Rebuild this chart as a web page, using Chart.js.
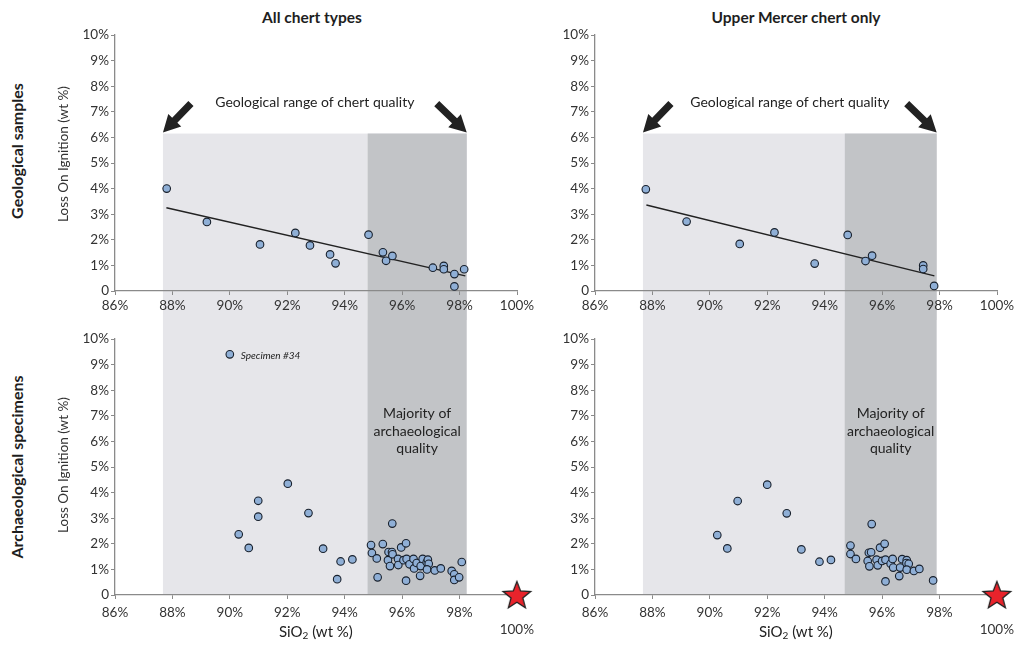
<!DOCTYPE html>
<html>
<head>
<meta charset="utf-8">
<script src="https://cdn.jsdelivr.net/npm/chart.js@4.4.1/dist/chart.umd.min.js"></script>
<style>
  body { margin: 0; background: #fff; width: 1022px; height: 647px; position: relative; overflow: hidden; font-family: Lato, sans-serif; color: #1e1e1e; }
  canvas { position: absolute; }
  .t { position: absolute; white-space: nowrap; font-weight: bold; transform: translate(-50%, -50%); }
  .rot { transform: translate(-50%, -50%) rotate(-90deg); font-size: 16px; }
</style>
</head>
<body>
<div class="t" style="left:312px;top:17px;font-size:15.5px">All chert types</div>
<div class="t" style="left:796px;top:17px;font-size:15.5px">Upper Mercer chert only</div>
<div class="t rot" style="left:16px;top:151px">Geological samples</div>
<div class="t rot" style="left:16px;top:467px">Archaeological specimens</div>

<canvas id="geoAll" width="540" height="320" style="left:0;top:0"></canvas>
<canvas id="geoUm" width="540" height="320" style="left:480px;top:0"></canvas>
<canvas id="archAll" width="540" height="327" style="left:0;top:320px"></canvas>
<canvas id="archUm" width="540" height="327" style="left:480px;top:320px"></canvas>

<script>
var FONT = 'Lato, sans-serif';

// axis ticks
var xTicks = [86, 88, 90, 92, 94, 96, 98, 100];
var yTicks = [0, 1, 2, 3, 4, 5, 6, 7, 8, 9, 10];

// geological samples, all chert types (SiO2 %, LOI %)
var geoAllX = [87.8, 89.2, 91.05, 92.28, 92.79, 93.49, 93.68, 94.83, 95.33, 95.44, 95.66, 97.07, 97.45, 97.45, 97.82, 97.82, 98.16];
var geoAllY = [4.0, 2.7, 1.82, 2.27, 1.78, 1.43, 1.08, 2.2, 1.51, 1.18, 1.37, 0.91, 0.98, 0.85, 0.66, 0.18, 0.85];
var trendAllX = [87.79, 98.2];
var trendAllY = [3.25, 0.59];

// geological samples, Upper Mercer only
var geoUmX = [87.77, 89.19, 91.04, 92.25, 93.65, 94.8, 95.42, 95.65, 97.43, 97.43, 97.81];
var geoUmY = [3.97, 2.71, 1.84, 2.29, 1.07, 2.19, 1.17, 1.38, 1.0, 0.86, 0.2];
var trendUmX = [87.79, 97.82];
var trendUmY = [3.36, 0.59];

// archaeological specimens, all chert types (first one is specimen #34)
var archAllX = [90.0, 92.02, 90.99, 90.99, 92.74, 90.31, 90.66, 93.25, 93.86, 94.27, 93.74, 94.92, 94.95, 95.12, 95.15, 95.33,
  95.66, 95.53, 95.65, 95.51, 95.58, 95.67, 95.86, 95.87, 95.97, 96.14, 96.05, 96.16, 96.14, 96.26, 96.4, 96.42, 96.51,
  96.65, 96.72, 96.86, 96.9, 96.93, 96.63, 96.87, 97.14, 97.35, 97.73, 97.82, 97.82, 97.99, 98.08];
var archAllY = [9.4, 4.35, 3.68, 3.06, 3.2, 2.37, 1.84, 1.81, 1.31, 1.39, 0.62, 1.95, 1.64, 1.43, 0.69, 1.99,
  2.79, 1.68, 1.68, 1.36, 1.13, 1.59, 1.41, 1.17, 1.86, 2.02, 1.36, 1.41, 0.56, 1.2, 1.41, 1.04, 1.25,
  1.13, 1.41, 1.28, 1.38, 1.22, 0.75, 1.0, 0.96, 1.04, 0.94, 0.81, 0.59, 0.69, 1.29];

// archaeological specimens, Upper Mercer only
var archUmX = [92.0, 90.97, 92.68, 90.26, 90.61, 93.19, 93.82, 94.22, 94.9, 94.9, 95.09, 95.64, 95.54, 95.62, 95.5, 95.56,
  95.81, 95.85, 95.93, 96.09, 96.0, 96.12, 96.12, 96.3, 96.37, 96.39, 96.63, 96.7, 96.86, 96.85, 96.93, 96.6, 96.86,
  97.11, 97.3, 97.78];
var archUmY = [4.31, 3.67, 3.19, 2.34, 1.82, 1.78, 1.3, 1.37, 1.93, 1.6, 1.41, 2.77, 1.65, 1.67, 1.33, 1.12,
  1.38, 1.16, 1.85, 2.0, 1.33, 1.38, 0.53, 1.22, 1.41, 1.07, 1.07, 1.4, 1.36, 1.25, 1.22, 0.74, 0.99,
  0.94, 1.02, 0.57];

// pure silica reference (star)
var pureX = [100];
var pureY = [0];

// shaded ranges (SiO2 %)
var geoRangeAll = [87.67, 98.25];
var majorityAll = [94.8, 98.25];
var geoRangeUm = [87.67, 97.9];
var majorityUm = [94.7, 97.9];
var geoShadeTop = 6.15;

function pts(xs, ys) {
  return xs.map(function (x, i) { return { x: x, y: ys[i] }; });
}

// filled red star for the 100% marker
var star = document.createElement('canvas');
star.width = 32; star.height = 32;
(function () {
  var c = star.getContext('2d');
  c.beginPath();
  for (var i = 0; i < 10; i++) {
    var r = i % 2 ? 6.2 : 14.5;
    var a = -Math.PI / 2 + i * Math.PI / 5;
    c.lineTo(16 + r * Math.cos(a), 17 + r * Math.sin(a));
  }
  c.closePath();
  c.fillStyle = '#e8232b';
  c.fill();
  c.lineWidth = 1.3;
  c.strokeStyle = '#222';
  c.stroke();
})();

function arrow(ctx, tx, ty, dx, dy) {
  var len = Math.hypot(dx, dy), ux = -dx / len, uy = -dy / len;
  var nx = -uy, ny = ux;
  var hl = 17, hw = 9, sw = 3.6;
  var bx = tx - ux * hl, by = ty - uy * hl;
  var sx = tx + dx, sy = ty + dy;
  ctx.beginPath();
  ctx.moveTo(tx, ty);
  ctx.lineTo(bx + nx * hw, by + ny * hw);
  ctx.lineTo(bx + nx * sw, by + ny * sw);
  ctx.lineTo(sx + nx * sw, sy + ny * sw);
  ctx.lineTo(sx - nx * sw, sy - ny * sw);
  ctx.lineTo(bx - nx * sw, by - ny * sw);
  ctx.lineTo(bx - nx * hw, by - ny * hw);
  ctx.closePath();
  ctx.fill();
}

var decor = {
  id: 'decor',
  beforeDraw: function (chart, args, o) {
    var ctx = chart.ctx, xs = chart.scales.x, ys = chart.scales.y;
    var top = o.geo ? ys.getPixelForValue(geoShadeTop) : 0;
    var bottom = o.geo ? chart.height : ys.getPixelForValue(0);
    var a = xs.getPixelForValue(o.range[0]), b = xs.getPixelForValue(o.range[1]);
    var m = xs.getPixelForValue(o.majority[0]);
    ctx.save();
    ctx.fillStyle = '#e6e6ea';
    ctx.fillRect(a, top, b - a, bottom - top);
    ctx.fillStyle = '#c2c4c7';
    ctx.fillRect(m, top, b - m, bottom - top);
    ctx.restore();
  },
  afterDraw: function (chart, args, o) {
    var ctx = chart.ctx, xs = chart.scales.x, ys = chart.scales.y, ca = chart.chartArea;
    var a = xs.getPixelForValue(o.range[0]), b = xs.getPixelForValue(o.range[1]);
    var m = xs.getPixelForValue(o.majority[0]);
    ctx.save();
    ctx.fillStyle = '#222';
    ctx.textAlign = 'center';
    ctx.textBaseline = 'middle';
    if (o.geo) {
      var ty = ys.getPixelForValue(geoShadeTop);
      arrow(ctx, a, ty - 1, 28, -29);
      arrow(ctx, b, ty - 1, -30, -29);
      ctx.font = '14px ' + FONT;
      ctx.fillText('Geological range of chert quality', (a + b) / 2, ys.getPixelForValue(7.35));
    } else {
      ctx.font = '14px ' + FONT;
      var cy = ys.getPixelForValue(6.4), cx = (m + b) / 2;
      ctx.fillText('Majority of', cx, cy - 17.5);
      ctx.fillText('archaeological', cx, cy);
      ctx.fillText('quality', cx, cy + 17);
      // x axis title with subscript
      var y0 = chart.height - 15;
      ctx.font = '15px ' + FONT;
      var w1 = ctx.measureText('SiO').width, w3 = ctx.measureText(' (wt %)').width;
      ctx.font = '10px ' + FONT;
      var w2 = ctx.measureText('2').width;
      var x0 = (ca.left + ca.right) / 2 - (w1 + w2 + w3) / 2;
      ctx.textAlign = 'left';
      ctx.font = '15px ' + FONT;
      ctx.fillText('SiO', x0, y0);
      ctx.fillText(' (wt %)', x0 + w1 + w2, y0);
      ctx.font = '10px ' + FONT;
      ctx.fillText('2', x0 + w1, y0 + 4);
    }
    if (o.spec != null) {
      var d = chart.data.datasets[0].data[o.spec];
      ctx.textAlign = 'left';
      ctx.font = 'italic 10px ' + FONT;
      ctx.fillText('Specimen #34', xs.getPixelForValue(d.x) + 11, ys.getPixelForValue(d.y) + 1);
    }
    if (o.yTitle) {
      ctx.translate(64, (ca.top + ca.bottom) / 2 + o.yShift);
      ctx.rotate(-Math.PI / 2);
      ctx.textAlign = 'center';
      ctx.font = '13.5px ' + FONT;
      ctx.fillStyle = '#333';
      ctx.fillText('Loss On Ignition (wt %)', 0, 0);
    }
    ctx.restore();
  }
};

function makeChart(id, o) {
  // first dataset is drawn on top; it holds the samples
  var datasets = [{
    type: 'scatter',
    data: pts(o.x, o.y),
    backgroundColor: '#8fafd6',
    borderColor: '#18202c',
    borderWidth: 1.1,
    pointRadius: 3.8,
    clip: false
  }];
  if (o.tx) {
    datasets.push({
      type: 'line',
      data: pts(o.tx, o.ty),
      borderColor: '#222',
      borderWidth: 1.4,
      pointRadius: 0,
      clip: false
    });
  } else {
    datasets.push({
      type: 'scatter',
      data: pts(pureX, pureY),
      pointStyle: star,
      pointRadius: 14,
      clip: false
    });
  }
  return new Chart(document.getElementById(id), {
    data: { datasets: datasets },
    options: {
      responsive: false,
      animation: false,
      layout: { padding: { left: 50, right: 23, top: o.geo ? 35 : 19, bottom: 0 } },
      plugins: {
        legend: { display: false },
        tooltip: { enabled: false },
        decor: { geo: o.geo, range: o.range, majority: o.majority, spec: o.spec, yTitle: o.yTitle, yShift: o.geo ? -9 : -2 }
      },
      scales: {
        x: {
          type: 'linear', min: 86, max: 100,
          afterBuildTicks: function (s) { s.ticks = xTicks.map(function (v) { return { value: v }; }); },
          ticks: {
            font: { family: FONT, size: 13.5 }, color: '#333', padding: o.geo ? 3 : 6, maxRotation: 0,
            callback: function (v) { return (!o.geo && v === 100) ? ['', '100%'] : v + '%'; }
          },
          grid: { drawOnChartArea: false, tickLength: 4, color: '#8a8a8a' },
          border: { color: '#8a8a8a', width: 1.3 },
          afterFit: function (s) { s.height = o.geo ? 29 : 52; }
        },
        y: {
          type: 'linear', min: 0, max: 10,
          afterBuildTicks: function (s) { s.ticks = yTicks.map(function (v) { return { value: v }; }); },
          ticks: {
            font: { family: FONT, size: 13.5 }, color: '#333', padding: 2,
            callback: function (v) { return v === 0 ? '0' : v + '%'; }
          },
          grid: { drawOnChartArea: false, tickLength: 4, color: '#8a8a8a' },
          border: { color: '#8a8a8a', width: 1.3 },
          afterFit: function (s) { s.width = 65; }
        }
      }
    },
    plugins: [decor]
  });
}

makeChart('geoAll', { geo: true, x: geoAllX, y: geoAllY, tx: trendAllX, ty: trendAllY, range: geoRangeAll, majority: majorityAll, yTitle: true });
makeChart('geoUm', { geo: true, x: geoUmX, y: geoUmY, tx: trendUmX, ty: trendUmY, range: geoRangeUm, majority: majorityUm, yTitle: false });
makeChart('archAll', { geo: false, x: archAllX, y: archAllY, range: geoRangeAll, majority: majorityAll, spec: 0, yTitle: true });
makeChart('archUm', { geo: false, x: archUmX, y: archUmY, range: geoRangeUm, majority: majorityUm, yTitle: false });
</script>
</body>
</html>
